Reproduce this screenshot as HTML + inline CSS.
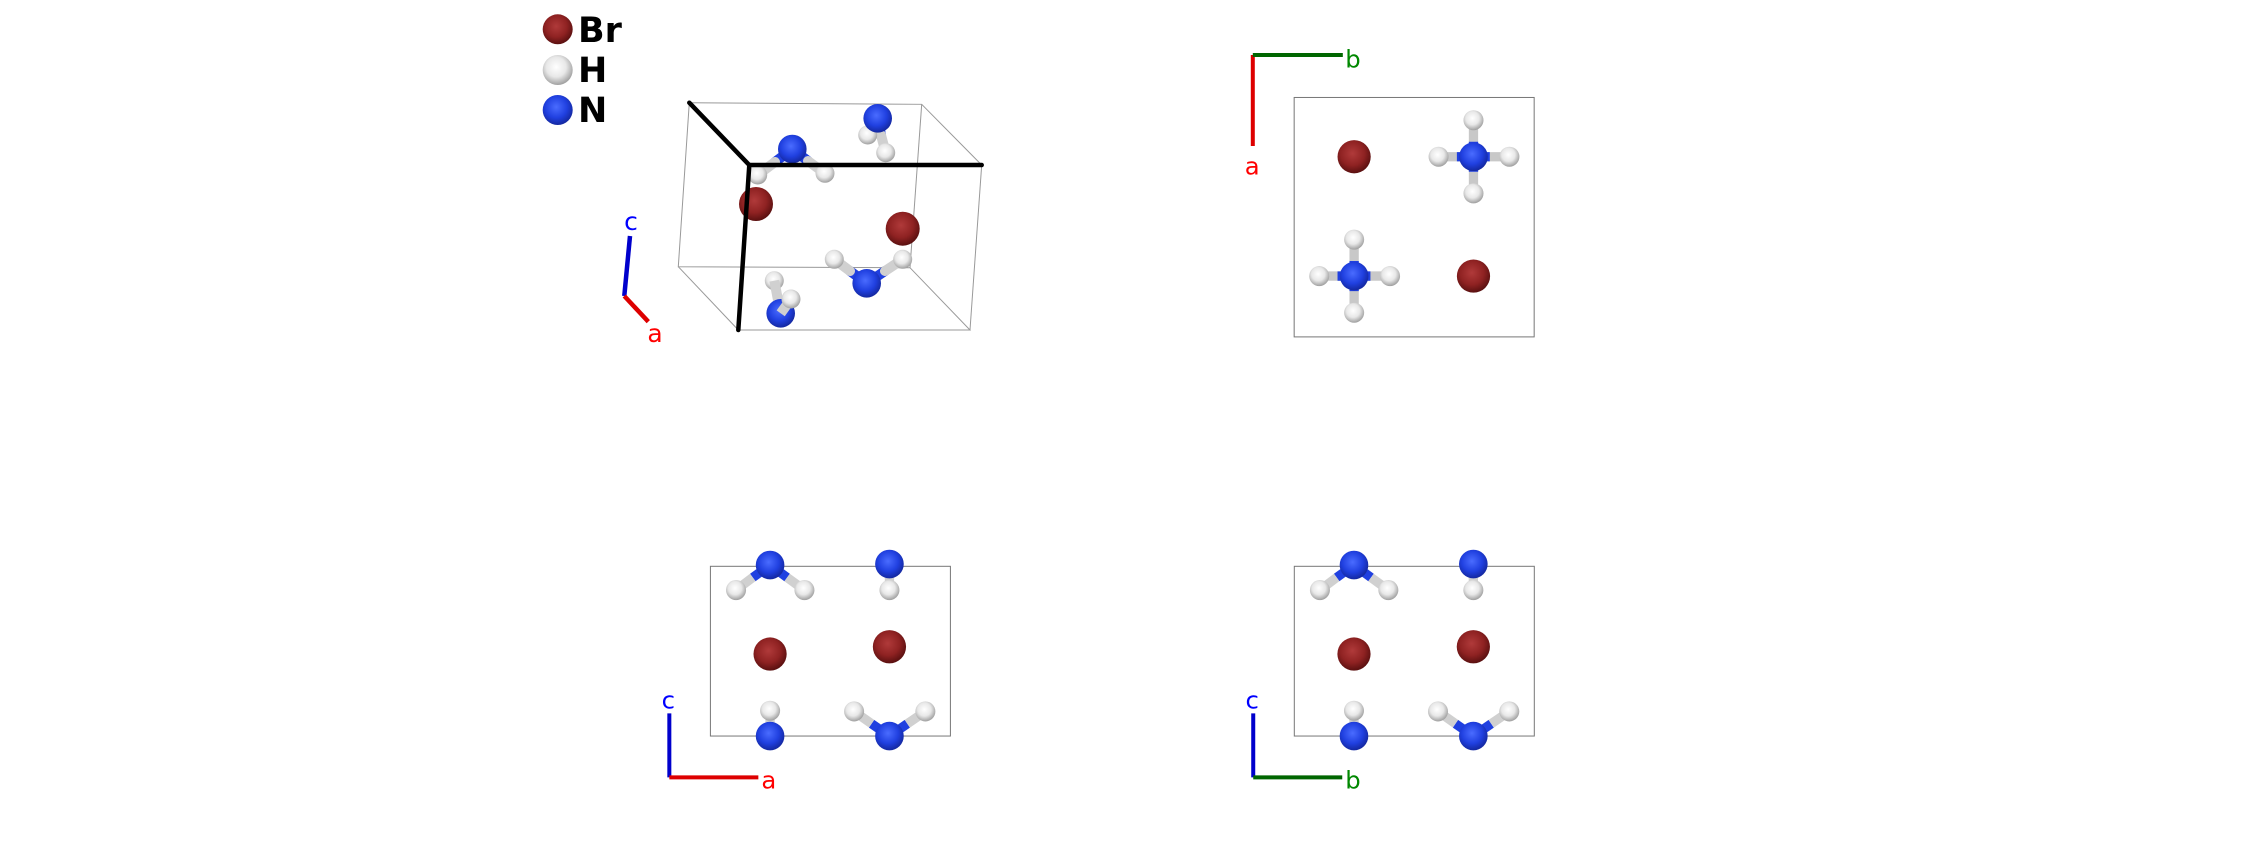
<!DOCTYPE html>
<html><head><meta charset="utf-8"><style>
html,body{margin:0;padding:0;background:#fff;}
svg{display:block;}
text{font-family:"DejaVu Sans","Liberation Sans",sans-serif;}
</style></head><body>
<svg width="2244" height="868" viewBox="0 0 1568 606.5" xmlns="http://www.w3.org/2000/svg">
<defs>
<radialGradient id="gBr" cx="0.45" cy="0.4" r="0.6"><stop offset="0" stop-color="#b03a3a"/><stop offset="0.6" stop-color="#8f2222"/><stop offset="1" stop-color="#5a1010"/></radialGradient>
<radialGradient id="gN" cx="0.45" cy="0.4" r="0.6"><stop offset="0" stop-color="#4a6cff"/><stop offset="0.6" stop-color="#2040e0"/><stop offset="1" stop-color="#1428a0"/></radialGradient>
<radialGradient id="gH" cx="0.45" cy="0.4" r="0.6"><stop offset="0" stop-color="#ffffff"/><stop offset="0.55" stop-color="#e8e8e8"/><stop offset="1" stop-color="#a0a0a0"/></radialGradient>
</defs>

<!-- ===== Top-left perspective panel (original coords, scaled) ===== -->
<g transform="scale(0.69875)">
  <circle cx="557.7" cy="29.3" r="15" fill="url(#gBr)"/>
  <circle cx="557.7" cy="70" r="15" fill="url(#gH)"/>
  <circle cx="557.7" cy="110" r="15" fill="url(#gN)"/>
  <text x="578" y="42" font-size="35" font-weight="bold" fill="#000">Br</text>
  <text x="578" y="82" font-size="35" font-weight="bold" fill="#000">H</text>
  <text x="578" y="122" font-size="35" font-weight="bold" fill="#000">N</text>
  <g stroke="#999" stroke-width="1" fill="none">
    <polyline points="689.3,102.7 921.7,104.3 981.7,165"/>
    <polyline points="689.3,102.7 678.3,266.7 910,267.7 970,330 738.3,330"/>
    <line x1="678.3" y1="266.7" x2="738.3" y2="330"/>
    <line x1="921.7" y1="104.3" x2="910" y2="267.7"/>
    <line x1="981.7" y1="165" x2="970" y2="330"/>
  </g>
  <g stroke-width="10" stroke-linecap="round">
    <line x1="877.7" y1="118.3" x2="872" y2="128" stroke="#2040e0"/><line x1="872" y1="128" x2="867.7" y2="135" stroke="#d0d0d0"/>
    <line x1="877.7" y1="118.3" x2="881" y2="135" stroke="#2040e0"/><line x1="881" y1="135" x2="885.7" y2="152.7" stroke="#d0d0d0"/>
    <line x1="792.3" y1="149" x2="775" y2="162" stroke="#2040e0"/><line x1="775" y1="162" x2="757.7" y2="175" stroke="#d0d0d0"/>
    <line x1="792.3" y1="149" x2="808" y2="161" stroke="#2040e0"/><line x1="808" y1="161" x2="825" y2="173.3" stroke="#d0d0d0"/>
  </g>
  <circle cx="867.7" cy="135" r="9.5" fill="url(#gH)"/>
  <circle cx="877.7" cy="118.3" r="14.3" fill="url(#gN)"/>
  <circle cx="885.7" cy="152.7" r="9.5" fill="url(#gH)"/>
  <circle cx="757.7" cy="175" r="9.5" fill="url(#gH)"/>
  <circle cx="825" cy="173.3" r="9.5" fill="url(#gH)"/>
  <circle cx="792.3" cy="149" r="14.3" fill="url(#gN)"/>
  <circle cx="756" cy="204" r="17" fill="url(#gBr)"/>
  <circle cx="902.7" cy="228.7" r="17" fill="url(#gBr)"/>
  <g stroke-width="10" stroke-linecap="round">
    <line x1="866.7" y1="283.3" x2="850" y2="271" stroke="#2040e0"/><line x1="850" y1="271" x2="834.3" y2="259.3" stroke="#d0d0d0"/>
    <line x1="866.7" y1="283.3" x2="885" y2="271" stroke="#2040e0"/><line x1="885" y1="271" x2="902.7" y2="259.3" stroke="#d0d0d0"/>
  </g>
  <circle cx="834.3" cy="259.3" r="9.5" fill="url(#gH)"/>
  <circle cx="902.7" cy="259.3" r="9.5" fill="url(#gH)"/>
  <circle cx="866.7" cy="283.3" r="14.3" fill="url(#gN)"/>
  <circle cx="774.3" cy="280.7" r="9.5" fill="url(#gH)"/>
  <line x1="774.3" y1="280.7" x2="778" y2="300" stroke="#d0d0d0" stroke-width="10"/>
  <circle cx="780.7" cy="313.3" r="14.3" fill="url(#gN)"/>
  <line x1="780.7" y1="313.3" x2="791" y2="299" stroke="#d0d0d0" stroke-width="10"/>
  <circle cx="791" cy="299" r="9.5" fill="url(#gH)"/>
  <g stroke="#000" stroke-width="4.5" fill="none" stroke-linecap="round">
    <line x1="749.3" y1="165" x2="689.3" y2="102.7"/>
    <line x1="749.3" y1="165" x2="981.7" y2="165"/>
    <line x1="749.3" y1="165" x2="738.3" y2="330"/>
  </g>
  <line x1="624.3" y1="296" x2="630" y2="236" stroke="#0000cc" stroke-width="4.5"/>
  <line x1="624.3" y1="296" x2="648.3" y2="321.7" stroke="#dd0000" stroke-width="4.5"/>
  <text x="631" y="230" font-size="25" fill="#0000ff" text-anchor="middle">c</text>
  <text x="655" y="342" font-size="25" fill="#ff0000" text-anchor="middle">a</text>
</g>

<!-- ===== Top-right panel (a-b) ===== -->
<rect x="904.3" y="68.1" width="167.7" height="167.3" fill="none" stroke="#777" stroke-width="0.7"/>
<circle cx="946.2" cy="109.5" r="11.6" fill="url(#gBr)"/>
<circle cx="1029.6" cy="192.9" r="11.6" fill="url(#gBr)"/>
<g id="nh4a">
  <g stroke-width="6.5">
    <line x1="1029.6" y1="84" x2="1029.6" y2="135" stroke="#c8c8c8"/>
    <line x1="1005.2" y1="109.5" x2="1054.7" y2="109.5" stroke="#c8c8c8"/>
    <line x1="1029.6" y1="99" x2="1029.6" y2="120" stroke="#2040e0"/>
    <line x1="1018" y1="109.5" x2="1041" y2="109.5" stroke="#2040e0"/>
  </g>
  <circle cx="1029.6" cy="84" r="7" fill="url(#gH)"/>
  <circle cx="1029.6" cy="135.1" r="7" fill="url(#gH)"/>
  <circle cx="1005.2" cy="109.5" r="7" fill="url(#gH)"/>
  <circle cx="1054.7" cy="109.5" r="7" fill="url(#gH)"/>
  <circle cx="1029.6" cy="109.5" r="10" fill="url(#gN)"/>
</g>
<use href="#nh4a" transform="translate(-83.4,83.4)"/>
<line x1="875.4" y1="38.4" x2="875.4" y2="102" stroke="#dd0000" stroke-width="2.8"/>
<line x1="875.4" y1="38.4" x2="938.3" y2="38.4" stroke="#006600" stroke-width="2.8"/>
<text x="940" y="47" font-size="17" fill="#008800">b</text>
<text x="875" y="122" font-size="17" fill="#ff0000" text-anchor="middle">a</text>

<!-- ===== Bottom panels ===== -->
<g id="bottom">
  <rect x="496.4" y="395.7" width="167.7" height="118.6" fill="none" stroke="#777" stroke-width="0.7"/>
  <g stroke-width="6.5">
    <line x1="538.1" y1="394.8" x2="526" y2="403.5" stroke="#2040e0"/><line x1="526" y1="403.5" x2="514.3" y2="412.3" stroke="#d0d0d0"/>
    <line x1="538.1" y1="394.8" x2="550" y2="403.5" stroke="#2040e0"/><line x1="550" y1="403.5" x2="562.1" y2="412.3" stroke="#d0d0d0"/>
    <line x1="621.5" y1="394.1" x2="621.5" y2="403" stroke="#2040e0"/><line x1="621.5" y1="403" x2="621.5" y2="412.3" stroke="#d0d0d0"/>
    <line x1="538.1" y1="514.3" x2="538.1" y2="505" stroke="#2040e0"/><line x1="538.1" y1="505" x2="538.1" y2="496.6" stroke="#d0d0d0"/>
    <line x1="621.5" y1="514.3" x2="609" y2="505.7" stroke="#2040e0"/><line x1="609" y1="505.7" x2="596.8" y2="497.1" stroke="#d0d0d0"/>
    <line x1="621.5" y1="514.3" x2="634" y2="505.7" stroke="#2040e0"/><line x1="634" y1="505.7" x2="646.6" y2="497.1" stroke="#d0d0d0"/>
  </g>
  <circle cx="538.1" cy="394.8" r="10" fill="url(#gN)"/>
  <circle cx="514.3" cy="412.3" r="7" fill="url(#gH)"/>
  <circle cx="562.1" cy="412.3" r="7" fill="url(#gH)"/>
  <circle cx="621.5" cy="394.1" r="10" fill="url(#gN)"/>
  <circle cx="621.5" cy="412.3" r="7" fill="url(#gH)"/>
  <circle cx="538.1" cy="457" r="11.6" fill="url(#gBr)"/>
  <circle cx="621.5" cy="451.9" r="11.6" fill="url(#gBr)"/>
  <circle cx="538.1" cy="496.6" r="7" fill="url(#gH)"/>
  <circle cx="538.1" cy="514.3" r="10" fill="url(#gN)"/>
  <circle cx="596.8" cy="497.1" r="7" fill="url(#gH)"/>
  <circle cx="646.6" cy="497.1" r="7" fill="url(#gH)"/>
  <circle cx="621.5" cy="514.3" r="10" fill="url(#gN)"/>
  <line x1="467.7" y1="498.5" x2="467.7" y2="543.2" stroke="#0000cc" stroke-width="2.8"/>
</g>
<line x1="467.7" y1="543.2" x2="529.9" y2="543.2" stroke="#dd0000" stroke-width="2.8"/>
<text x="467" y="495" font-size="17" fill="#0000ff" text-anchor="middle">c</text>
<text x="532" y="551" font-size="17" fill="#ff0000">a</text>

<use href="#bottom" transform="translate(408,0)"/>
<line x1="875.7" y1="543.2" x2="937.9" y2="543.2" stroke="#006600" stroke-width="2.8"/>
<text x="875" y="495" font-size="17" fill="#0000ff" text-anchor="middle">c</text>
<text x="940" y="551" font-size="17" fill="#008800">b</text>
</svg>
</body></html>
